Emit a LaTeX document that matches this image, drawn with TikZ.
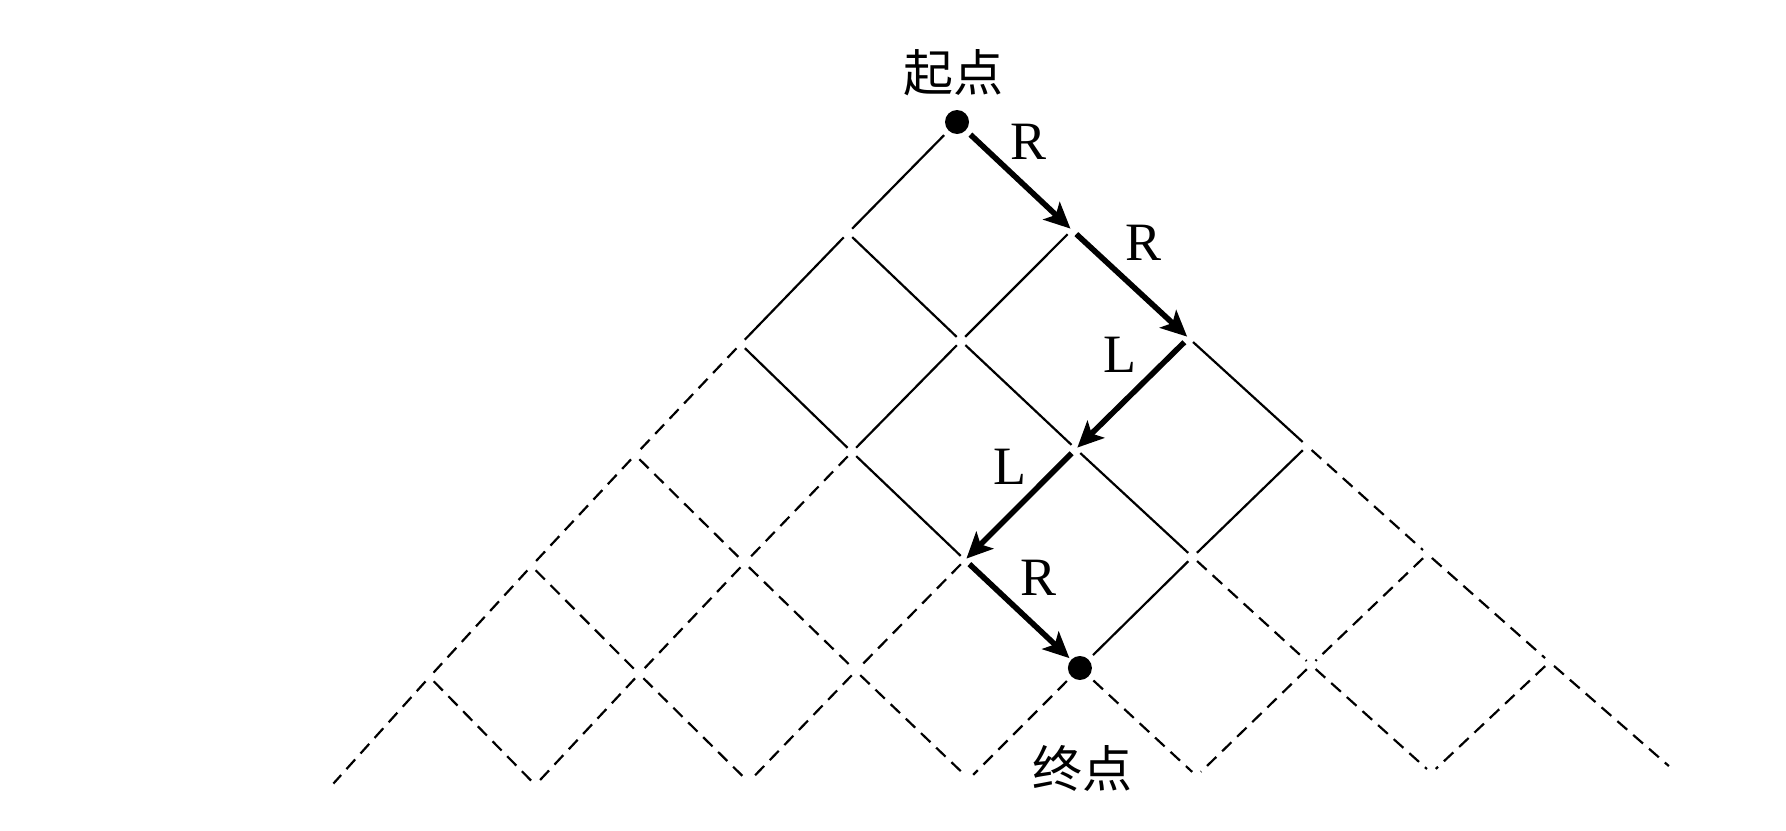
\documentclass[tikz,border=0pt]{standalone}
\usepackage{fontspec}
\setmainfont{Liberation Serif}
\newfontfamily\cjk{Noto Sans CJK SC}
\usetikzlibrary{arrows.meta}
\begin{document}
\begin{tikzpicture}[x=0.5pt,y=-0.5pt,
  edge/.style={line width=1.1pt, shorten <=3pt, shorten >=3pt},
  dedge/.style={edge, dash pattern=on 6.5pt off 4pt},
  move/.style={line width=2.8pt, -{Stealth[length=13pt,width=12pt,inset=3pt]}, shorten <=3pt, shorten >=1pt},
  lbl/.style={font=\fontsize{27}{30}\selectfont, inner sep=0pt},
  cjklbl/.style={font=\cjk\fontsize{25}{30}\selectfont, inner sep=0pt},
  dot/.style={circle, fill=black, inner sep=0pt, minimum size=12pt}]
\useasboundingbox (0,0) rectangle (1786,830);
% lattice points
\foreach \k in {0,...,6} {
  \foreach \j in {0,...,\k} {
    \pgfmathsetmacro\u{2*\j-\k}
    \coordinate (n\k\j) at ({957+2*\k+112*\u+0.9*\u*\u},{122+109.5*\k-1.5*\u});
  }
}
\node[dot] (start) at (n00) {};
\node[dot] (end) at (n53) {};
% solid edges
\foreach \a/\b in {start/n10, n10/n20, n10/n21, n11/n21, n20/n31, n21/n31, n21/n32,
                   n22/n33, n31/n42, n32/n43, n33/n43, n43/end}
  \draw[edge] (\a) -- (\b);
% dashed edges
\foreach \a/\b in {n20/n30, n30/n40, n30/n41, n31/n41, n33/n44,
                   n40/n50, n40/n51, n41/n51, n41/n52, n42/n52, n43/n54, n44/n54, n44/n55,
                   n50/n60, n50/n61, n51/n61, n51/n62, n52/n62, n52/n63, end/n63, end/n64,
                   n54/n64, n54/n65, n55/n65, n55/n66}
  \draw[dedge] (\a) -- (\b);
% path
\draw[move] (start) -- (n11);
\draw[move] (n11) -- (n22);
\draw[move] (n22) -- (n32);
\draw[move] (n32) -- (n42);
\draw[move] (n42) -- (end);
% labels
\node[cjklbl] (ls) at (953,73) {起点};
\node[cjklbl] (le) at (1082,768) {终点};
\node[lbl] (r1) at (1028,142) {R};
\node[lbl] (r2) at (1143,243) {R};
\node[lbl] (l1) at (1120,355) {L};
\node[lbl] (l2) at (1010,467) {L};
\node[lbl] (r3) at (1038,578) {R};
\end{tikzpicture}
\end{document}
